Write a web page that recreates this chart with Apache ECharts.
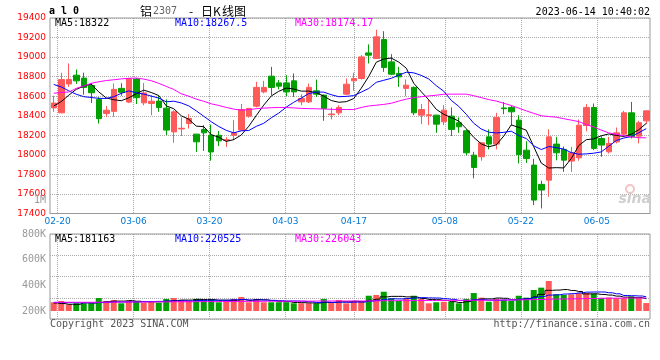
<!DOCTYPE html>
<html><head><meta charset="utf-8">
<script src="https://cdn.jsdelivr.net/npm/echarts@6/dist/echarts.min.js"></script>
<style>html,body{margin:0;padding:0;background:#fff}#c{width:660px;height:360px}</style>
</head><body><div id="c"></div>
<script>
const dates = ['02-17','02-20','02-21','02-22','02-23','02-24','02-27','02-28','03-01','03-02',
'03-03','03-06','03-07','03-08','03-09','03-10','03-13','03-14','03-15','03-16',
'03-17','03-20','03-21','03-22','03-23','03-24','03-27','03-28','03-29','03-30',
'03-31','04-03','04-04','04-06','04-07','04-10','04-11','04-12','04-13','04-14',
'04-17','04-18','04-19','04-20','04-21','04-24','04-25','04-26','04-27','04-28',
'05-04','05-05','05-08','05-09','05-10','05-11','05-12','05-15','05-16','05-17',
'05-18','05-19','05-22','05-23','05-24','05-25','05-26','05-29','05-30','05-31',
'06-01','06-02','06-05','06-06','06-07','06-08','06-09','06-12','06-13','06-14'];
const labelDates = ['02-20','03-06','03-20','04-03','04-17','05-08','05-22','06-05'];

const open = [18480,18430,18725,18815,18785,18710,18567,18424,18445,18680,
18540,18775,18532,18526,18550,18478,18235,18265,18321,18212,
18260,18200,18200,18148,18200,18253,18396,18498,18644,18805,
18736,18736,18757,18542,18542,18655,18611,18410,18430,18621,
18757,18781,19043,18986,19180,18951,18833,18680,18690,18406,
18400,18406,18338,18396,18328,18246,17997,17980,18184,18110,
18480,18485,18355,18048,17895,17698,17741,18110,18056,17936,
17970,18300,18485,18168,18031,18133,18212,18430,18191,18348];
const close = [18530,18770,18770,18757,18690,18635,18370,18457,18670,18640,
18780,18585,18634,18549,18485,18253,18440,18272,18372,18133,
18225,18030,18143,18155,18225,18464,18475,18690,18690,18690,
18703,18644,18644,18577,18690,18621,18475,18418,18485,18723,
18781,19002,19020,19207,18894,18825,18798,18713,18430,18464,
18410,18314,18457,18260,18287,18021,17871,18123,18110,18383,
18472,18440,18002,17963,17537,17640,18184,18021,17946,18021,
18304,18485,18066,18100,18117,18225,18430,18184,18328,18450];
const low = [18440,18425,18695,18725,18615,18530,18320,18385,18390,18605,
18530,18520,18508,18405,18440,18202,18123,18192,18270,18030,
18040,17940,18090,18080,18150,18245,18380,18485,18630,18610,
18670,18600,18593,18508,18530,18593,18348,18362,18406,18611,
18655,18770,18935,18980,18849,18815,18695,18600,18406,18314,
18304,18225,18304,18192,18225,17997,17760,17940,18056,18056,
18416,18300,17912,17918,17486,17452,17571,17944,17826,17826,
17940,18240,18048,17980,18014,18117,18184,18168,18117,18314];
const high = [18605,18840,18935,18873,18840,18735,18590,18500,18730,18733,
18785,18785,18735,18610,18610,18567,18457,18383,18416,18215,
18305,18310,18245,18180,18355,18520,18480,18747,18757,18900,
18765,18815,18833,18620,18730,18770,18615,18485,18508,18781,
18840,19020,19130,19280,19265,19030,18900,18771,18700,18520,
18560,18410,18508,18485,18383,18260,18031,18125,18260,18430,
18540,18500,18406,18140,17960,17735,18260,18184,18085,18082,
18362,18520,18525,18190,18184,18280,18450,18542,18348,18455];

const ma5 = [18500,18545,18610,18670,18703,18724,18644,18582,18564,18554,
18583,18626,18662,18638,18607,18501,18472,18400,18364,18294,
18288,18206,18181,18137,18156,18203,18292,18402,18509,18602,
18650,18683,18674,18652,18652,18635,18601,18556,18538,18544,
18576,18682,18802,18947,18981,18990,18949,18887,18732,18646,
18563,18466,18415,18381,18346,18268,18179,18112,18082,18102,
18192,18306,18281,18252,18083,17916,17865,17869,17866,17962,
18095,18155,18164,18195,18214,18199,18188,18211,18257,18322];
const ma10 = [18720,18695,18655,18620,18595,18587,18578,18577,18595,18629,
18654,18635,18622,18601,18581,18542,18549,18531,18501,18450,
18395,18339,18290,18251,18225,18246,18249,18291,18323,18379,
18427,18488,18538,18580,18627,18642,18642,18615,18595,18598,
18606,18642,18679,18742,18763,18783,18815,18845,18839,18813,
18776,18708,18651,18557,18496,18415,18323,18264,18232,18224,
18230,18242,18197,18167,18092,18054,18085,18075,18059,18023,
18006,18010,18017,18030,18088,18147,18172,18188,18226,18268];
const ma30 = [18630,18638,18643,18680,18705,18732,18748,18760,18768,18777,
18783,18786,18775,18758,18732,18700,18669,18625,18600,18570,
18548,18522,18505,18485,18468,18457,18462,18472,18478,18482,
18485,18484,18480,18475,18473,18471,18469,18466,18464,18464,
18464,18485,18500,18508,18516,18528,18550,18570,18585,18595,
18603,18610,18620,18621,18621,18621,18605,18585,18565,18550,
18528,18505,18478,18450,18424,18400,18392,18385,18370,18355,
18340,18310,18285,18253,18225,18210,18195,18185,18175,18174];

// volume, thousands
const volume = [268,278,252,260,260,260,301,278,286,260,
278,278,265,278,265,294,301,286,278,294,
286,294,268,278,294,309,268,294,268,268,
268,268,260,260,260,260,294,262,286,260,
278,278,319,325,350,299,278,299,319,294,
260,268,272,272,260,294,340,304,272,294,
286,278,319,304,364,382,434,330,325,330,
340,340,335,302,305,299,300,315,300,262];
const volMa5 = [262,258,252,252,264,262,267,272,277,277,
281,276,273,272,273,276,281,285,285,291,
289,288,284,284,284,289,283,289,287,281,
273,273,266,265,263,262,267,267,272,272,
276,273,284,292,310,314,314,310,309,298,
290,288,283,273,266,273,288,294,294,301,
299,287,290,296,310,329,361,363,367,360,
352,333,334,329,324,316,308,304,304,295];
const volMa10 = [266,266,265,264,264,264,266,268,270,270,
271,271,273,274,275,278,278,279,278,282,
283,284,284,284,287,289,286,286,285,283,
281,278,278,276,272,267,270,267,269,268,
269,270,276,282,291,295,294,297,301,304,
302,301,296,291,282,282,288,288,284,284,
286,287,292,295,306,314,324,326,332,335,
341,347,348,348,342,334,321,319,317,310];
const volMa30 = [268,268,268,268,268,268,269,269,269,270,
270,270,270,271,271,271,272,272,272,273,
273,273,274,274,274,275,275,275,276,276,
276,277,277,277,277,278,278,278,278,278,
278,278,279,279,280,280,281,281,281,282,
282,282,283,283,283,283,284,284,284,285,
285,286,287,288,289,290,292,293,294,295,
296,297,298,299,300,300,301,301,301,301];

const priceLegend = ['MA5:18322','MA10:18267.5','MA30:18174.17'];
const volLegend = ['MA5:181163','MA10:220525','MA30:226043'];
const legendColors = ['#000000','#0000ff','#ff00ff'];

const UP = '#ff5a5a', DOWN = '#00a000';
const GRID = '#aaaaaa', FRAME = '#999999';
const MONO = 'DejaVu Sans Mono';
const showDate = (i, v) => labelDates.indexOf(v) >= 0;

const chart = echarts.init(document.getElementById('c'), null, {renderer: 'canvas'});

function txt(text, x, y, color, font, align) {
  return {type: 'text', x: x, y: y, silent: true, z: 100,
    style: {text: text, fill: color, font: font, align: align || 'left', verticalAlign: 'middle',
            textAlign: align || 'left', textVerticalAlign: 'middle'}};
}

const legendX = [55, 175, 295];
const graphics = [
  txt('a l 0', 49, 11, '#000', 'bold 10px ' + MONO),
  txt('铝', 140, 11, '#000', '12px "Noto Sans CJK SC"'),
  txt('2307', 153, 11, '#666', '10px ' + MONO),
  txt('-', 189, 11, '#000', '12px "Noto Sans CJK SC"'),
  txt('日K', 201, 11, '#000', '12px "Noto Sans CJK SC"'),
  txt('线图', 222, 11, '#000', '12px "Noto Sans CJK SC"'),
  txt('2023-06-14 10:40:02', 650, 12, '#000', '10px ' + MONO, 'right'),
  txt('1M', 46, 200, '#999', '10px ' + MONO, 'right'),
  txt('Copyright 2023 SINA.COM', 50, 324, '#555', '10px ' + MONO),
  txt('http://finance.sina.com.cn', 650, 324, '#555', '10px ' + MONO, 'right'),
  txt('sina', 651, 199, '#cfcfcf', 'italic bold 14px "DejaVu Sans"', 'right'),
  {type: 'circle', shape: {cx: 630, cy: 189, r: 4}, silent: true, z: 1,
   style: {fill: 'none', stroke: '#f3c4c4', lineWidth: 2}}
];
priceLegend.forEach((t, k) => graphics.push(txt(t, legendX[k], 23.5, legendColors[k], '10px ' + MONO)));
volLegend.forEach((t, k) => graphics.push(txt(t, legendX[k], 239.5, legendColors[k], '10px ' + MONO)));

const lineS = (data, color, xi, yi, step) => ({
  type: 'line', data: data, xAxisIndex: xi, yAxisIndex: yi, showSymbol: false, symbol: 'none',
  step: step || false, silent: true,
  lineStyle: {color: color, width: 1}, itemStyle: {color: color}, z: 5
});

const option = {
  animation: false,
  backgroundColor: '#ffffff',
  grid: [
    {left: 50, top: 18, width: 600, height: 195.5, show: true, borderColor: FRAME, borderWidth: 1, backgroundColor: 'transparent'},
    {left: 50, top: 234, width: 600, height: 77},
    {left: 50, top: 234, width: 600, height: 85, show: true, borderColor: FRAME, borderWidth: 1, backgroundColor: 'transparent'}
  ],
  xAxis: [
    {type: 'category', gridIndex: 0, position: 'bottom', data: dates, boundaryGap: true, show: false},
    {type: 'category', gridIndex: 0, position: 'bottom', data: dates, boundaryGap: false,
     axisLine: {lineStyle: {color: FRAME}}, axisTick: {show: false},
     axisLabel: {interval: showDate, color: '#0078d7', fontSize: 9, fontFamily: 'DejaVu Sans', margin: 4},
     splitLine: {show: true, interval: showDate, lineStyle: {color: GRID, type: 'dotted'}}},
    {type: 'category', gridIndex: 1, position: 'bottom', data: dates, boundaryGap: true, show: false},
    {type: 'category', gridIndex: 2, position: 'bottom', data: dates, boundaryGap: false,
     axisLine: {show: false}, axisTick: {show: false}, axisLabel: {show: false},
     splitLine: {show: true, interval: showDate, lineStyle: {color: GRID, type: 'dotted'}}}
  ],
  yAxis: [
    {type: 'value', gridIndex: 0, min: 17400, max: 19400, interval: 200,
     axisLine: {show: false}, axisTick: {show: false},
     axisLabel: {color: '#ff0000', fontSize: 9, fontFamily: 'DejaVu Sans', margin: 4, formatter: v => String(v)},
     splitLine: {lineStyle: {color: GRID, type: 'dotted'}}},
    {type: 'value', gridIndex: 1, min: 200, max: 800, interval: 200,
     axisLine: {show: false}, axisTick: {show: false},
     axisLabel: {color: '#999', fontSize: 10, fontFamily: MONO, margin: 4, formatter: v => v + 'K'},
     splitLine: {show: false}},
    {type: 'value', gridIndex: 2, min: 0, max: 4, interval: 1,
     axisLine: {show: false}, axisTick: {show: false}, axisLabel: {show: false},
     splitLine: {lineStyle: {color: GRID, type: 'dotted'}}}
  ],
  series: [
    {type: 'candlestick', xAxisIndex: 0, yAxisIndex: 0, barWidth: 6, silent: true,
     data: dates.map((d, i) => [open[i], close[i], low[i], high[i]]),
     itemStyle: {color: UP, color0: DOWN, borderColor: UP, borderColor0: DOWN, borderWidth: 1}},
    lineS(ma5, '#000000', 0, 0),
    lineS(ma10, '#0000ff', 0, 0),
    lineS(ma30, '#ff00ff', 0, 0),
    {type: 'bar', xAxisIndex: 2, yAxisIndex: 1, barWidth: 6, silent: true,
     data: volume.map((v, i) => ({value: v, itemStyle: {color: close[i] >= open[i] ? UP : DOWN}}))},
    lineS(volMa5, '#000000', 2, 1, 'middle'),
    lineS(volMa10, '#0000ff', 2, 1, 'middle'),
    lineS(volMa30, '#ff00ff', 2, 1, 'middle')
  ],
  graphic: graphics
};
chart.setOption(option);
</script></body></html>
